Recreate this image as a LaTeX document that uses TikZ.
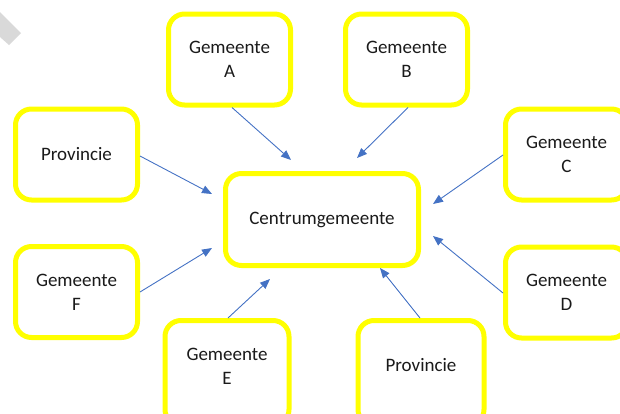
\documentclass[tikz,border=0pt]{standalone}
\usepackage{fontspec}
\setmainfont{Carlito}
\usetikzlibrary{arrows.meta}
\definecolor{boxyellow}{HTML}{FFFF00}
\definecolor{arrowblue}{HTML}{4472C4}
\definecolor{txt}{HTML}{1A1A1A}
\definecolor{corner}{HTML}{D9D9D9}
\begin{document}
\begin{tikzpicture}[x=1pt,y=-1pt,
  boxtext/.style={align=center, text=txt, inner sep=0pt, font=\fontsize{19}{24}\selectfont},
  gbox/.style={draw=boxyellow, line width=5pt, rounded corners=16pt, fill=white,
    minimum width=122pt, minimum height=91pt, boxtext},
  cbox/.style={gbox, minimum width=193pt, minimum height=92pt},
  arr/.style={draw=arrowblue, line width=0.9pt, -{Triangle[length=10pt,width=8pt]}}]
\useasboundingbox (0,0) rectangle (620,413);
\clip (0,0) rectangle (620,413);
\fill[corner] (0,12) -- (21,33) -- (9,45) -- (0,37) -- cycle;
\node[cbox] (C) at (322,219.5) {Centrumgemeente};
\node[gbox] (A) at (229.5,59.5) {Gemeente\\A};
\node[gbox] (B) at (406.5,59.5) {Gemeente\\B};
\node[gbox] (P1) at (76.5,154.5) {Provincie};
\node[gbox] (GC) at (566.5,154.5) {Gemeente\\C};
\node[gbox] (F) at (76.5,292) {Gemeente\\F};
\node[gbox] (D) at (566.5,292.5) {Gemeente\\D};
\node[gbox, minimum width=124pt, minimum height=105pt,
  label={[boxtext, yshift=6.5pt]center:{Gemeente\\E}}] (E) at (227,373) {};
\node[gbox, minimum width=126pt, minimum height=105pt,
  label={[boxtext, yshift=7.5pt]center:Provincie}] (P2) at (421,373) {};
\coordinate (hA) at (291,160);
\coordinate (hB) at (357,158);
\coordinate (hP1) at (212,194);
\coordinate (hGC) at (433,204);
\coordinate (hF) at (212,248);
\coordinate (hD) at (433,236);
\coordinate (hE) at (270,279);
\coordinate (hP2) at (380,268);
\draw[arr] (A.south -| 232,0) -- (hA);
\draw[arr] (B.south -| 408,0) -- (hB);
\draw[arr] (P1.east |- 0,156) -- (hP1);
\draw[arr] (GC.west |- 0,155) -- (hGC);
\draw[arr] (F.east |- 0,292) -- (hF);
\draw[arr] (D.west |- 0,293) -- (hD);
\draw[arr] (E.north -| 228,0) -- (hE);
\draw[arr] (P2.north -| 420,0) -- (hP2);
\end{tikzpicture}
\end{document}
